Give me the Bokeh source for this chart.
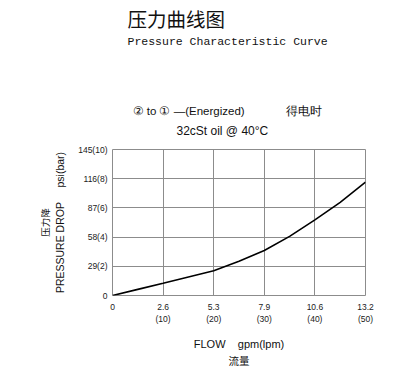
from bokeh.plotting import figure
from bokeh.models import Range1d, FixedTicker, Title, LinearAxis
from bokeh.embed import file_html
from bokeh.resources import INLINE

# ---- data ----
flow_lpm = [0, 5, 10, 15, 20, 25, 30, 35, 40, 45, 50]
pressure_bar = [0, 0.42, 0.84, 1.27, 1.70, 2.35, 3.08, 4.05, 5.18, 6.38, 7.76]

x_ticks = [0, 10, 20, 30, 40, 50]
x_tick_labels = ["0", "2.6\n(10)", "5.3\n(20)", "7.9\n(30)", "10.6\n(40)", "13.2\n(50)"]
y_ticks = [0, 2, 4, 6, 8, 10]
y_tick_labels = ["0", "29(2)", "58(4)", "87(6)", "116(8)", "145(10)"]

NB = "\u00a0"
title_cn = "压力曲线图"
title_en = "Pressure Characteristic Curve"
subtitle_1 = "② to ① —(Energized)" + NB * 13 + "得电时"
subtitle_2 = "32cSt oil @ 40°C"
x_label = "FLOW" + NB * 4 + "gpm(lpm)"
x_label_cn = "流量"
y_label = "PRESSURE DROP" + NB * 5 + "psi(bar)"
y_label_cn = "压力降"

W, H = 416, 370
BL, BR, BT, BB = 112, 51, 149, 74

p = figure(width=W, height=H, output_backend="svg", toolbar_location=None,
           x_range=Range1d(0, 50), y_range=Range1d(0, 10),
           min_border_left=BL, min_border_right=BR, min_border_top=BT, min_border_bottom=BB)
p.background_fill_color = "white"
p.border_fill_color = "white"
p.outline_line_color = "#8c8c8c"
p.outline_line_width = 1

GRID = "#8c8c8c"
for g in (p.xgrid, p.ygrid):
    g.grid_line_color = GRID
    g.grid_line_width = 1
p.xgrid.ticker = FixedTicker(ticks=x_ticks)
p.ygrid.ticker = FixedTicker(ticks=y_ticks)

FONT = "Liberation Sans"
TXT = "#111111"
for ax, ticks, labels in ((p.xaxis[0], x_ticks, x_tick_labels), (p.yaxis[0], y_ticks, y_tick_labels)):
    ax.ticker = FixedTicker(ticks=ticks)
    ax.major_label_overrides = {t: l for t, l in zip(ticks, labels)}
    ax.axis_line_color = None
    ax.major_tick_line_color = None
    ax.minor_tick_line_color = None
    ax.major_tick_out = 0
    ax.major_tick_in = 0
    ax.minor_tick_out = 0
    ax.major_label_text_font = FONT
    ax.major_label_text_font_size = "8.5px"
    ax.major_label_text_color = "#1a1a1a"
    ax.axis_label_text_font = FONT
    ax.axis_label_text_font_style = "normal"
    ax.axis_label_text_color = TXT

p.xaxis[0].major_label_standoff = 6
p.xaxis[0].axis_label = x_label
p.xaxis[0].axis_label_text_font_size = "11px"
p.xaxis[0].axis_label_standoff = 11
p.yaxis[0].major_label_standoff = 5
p.yaxis[0].axis_label = y_label
p.yaxis[0].axis_label_text_font_size = "10.5px"
p.yaxis[0].axis_label_standoff = 9

def bare_axis(side, text=None, size="10px", standoff=0):
    ax = LinearAxis(ticker=FixedTicker(ticks=[]))
    ax.axis_label = text
    ax.axis_line_color = None
    ax.major_tick_line_color = None
    ax.minor_tick_line_color = None
    ax.major_tick_in = 0
    ax.major_tick_out = 0
    ax.minor_tick_out = 0
    ax.major_label_standoff = 0
    ax.major_label_text_font_size = "0px"
    ax.axis_label_text_font = "Noto Sans CJK SC"
    ax.axis_label_text_font_size = size
    ax.axis_label_text_font_style = "normal"
    ax.axis_label_text_color = TXT
    ax.axis_label_standoff = standoff
    p.add_layout(ax, side)

def spacer(gap):
    # invisible axis above the plot whose only role is to reserve vertical space
    ax = LinearAxis(ticker=FixedTicker(ticks=[x_ticks[0]]))
    ax.major_label_overrides = {x_ticks[0]: ""}
    ax.axis_line_color = None
    ax.major_tick_line_color = None
    ax.minor_tick_line_color = None
    ax.major_tick_in = 0
    ax.major_tick_out = gap
    ax.minor_tick_out = 0
    ax.major_label_standoff = 0
    ax.major_label_text_font_size = "0px"
    p.add_layout(ax, "above")

bare_axis("left", y_label_cn, "9.5px", 0)
bare_axis("below", x_label_cn, "10.5px", 0)

p.line(flow_lpm, pressure_bar, line_color="black", line_width=1.6)

def add_title(text, size, font, offset, standoff):
    p.add_layout(Title(text=text, text_font=font, text_font_size=size, text_font_style="normal",
                       text_color=TXT, align="left", offset=offset, standoff=standoff), "above")

# stacked from the plot outward
spacer(6)
add_title(subtitle_2, "12px", FONT, 64, 11)
add_title(subtitle_1, "11.5px", FONT, 20, 0)
spacer(55)
add_title(title_en, "11.5px", "Liberation Mono", 15, 0)
add_title(title_cn, "19.5px", "Noto Sans CJK SC", 15, 0)

open("out.html", "w").write(file_html(p, INLINE))
